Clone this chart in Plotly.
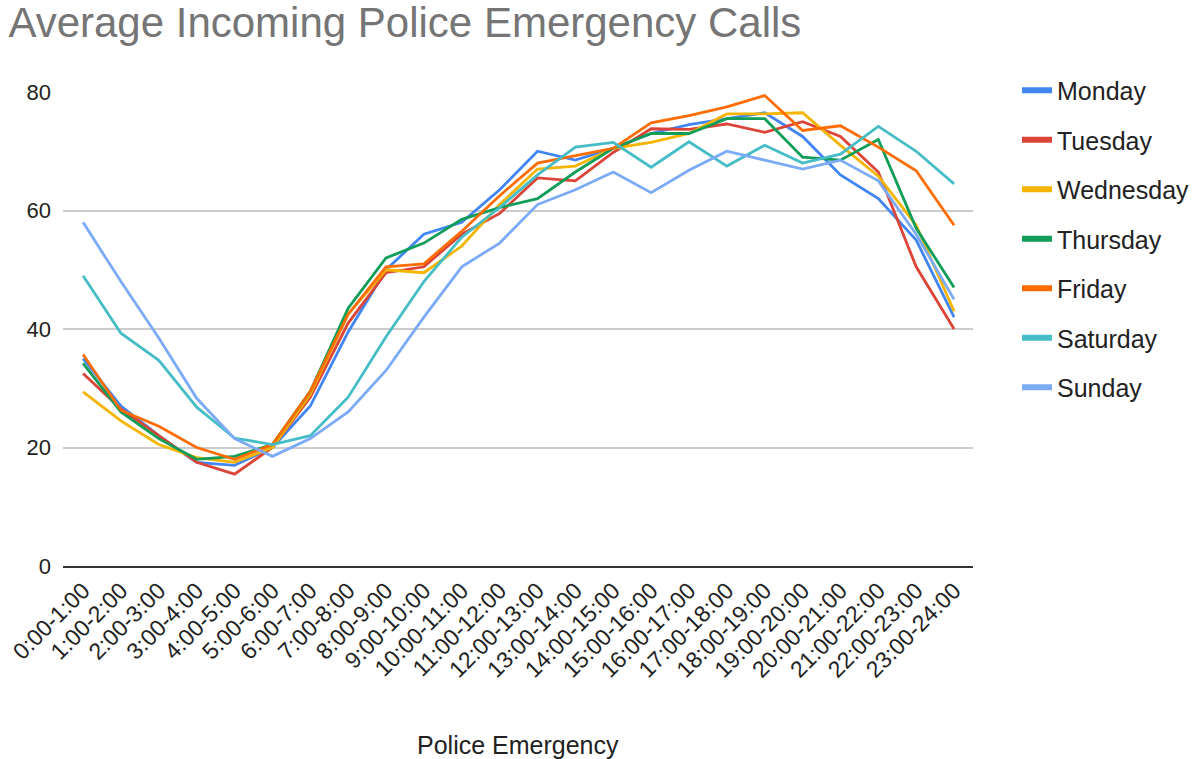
import plotly.graph_objects as go

hours = ["0:00-1:00", "1:00-2:00", "2:00-3:00", "3:00-4:00", "4:00-5:00", "5:00-6:00",
         "6:00-7:00", "7:00-8:00", "8:00-9:00", "9:00-10:00", "10:00-11:00", "11:00-12:00",
         "12:00-13:00", "13:00-14:00", "14:00-15:00", "15:00-16:00", "16:00-17:00",
         "17:00-18:00", "18:00-19:00", "19:00-20:00", "20:00-21:00", "21:00-22:00",
         "22:00-23:00", "23:00-24:00"]

monday = [35.0, 27.0, 22.0, 17.5, 17.0, 20.0, 27.0, 39.5, 50.0, 56.0, 58.0, 63.5,
          70.0, 68.5, 70.5, 73.0, 74.5, 75.5, 76.5, 72.5, 66.0, 62.0, 55.0, 42.0]
tuesday = [32.5, 26.5, 22.0, 17.5, 15.5, 20.0, 28.5, 41.0, 49.5, 50.5, 56.0, 59.5,
           65.5, 65.0, 69.8, 73.8, 73.7, 74.6, 73.2, 75.0, 72.5, 66.5, 50.5, 40.0]
wednesday = [29.4, 24.5, 20.5, 18.3, 17.5, 20.0, 29.0, 42.5, 50.0, 49.5, 54.0, 61.0,
             67.0, 67.5, 70.5, 71.5, 73.0, 76.3, 76.3, 76.5, 71.0, 65.8, 57.5, 43.0]
thursday = [34.2, 26.0, 21.5, 18.0, 18.5, 20.5, 29.5, 43.5, 52.0, 54.5, 58.5, 60.5,
            62.0, 66.5, 70.5, 73.0, 73.0, 75.5, 75.5, 69.0, 68.5, 72.0, 57.0, 47.0]
friday = [35.7, 26.3, 23.6, 20.0, 18.0, 20.5, 29.5, 42.5, 50.5, 51.0, 56.5, 62.5,
          68.0, 69.3, 70.5, 74.8, 76.0, 77.5, 79.4, 73.5, 74.3, 70.7, 66.7, 57.5]
saturday = [49.0, 39.3, 34.7, 26.8, 21.6, 20.5, 22.0, 28.5, 38.7, 48.0, 55.5, 60.5,
            66.0, 70.7, 71.5, 67.3, 71.6, 67.5, 71.0, 68.0, 69.5, 74.2, 70.0, 64.5]
sunday = [58.0, 48.0, 38.5, 28.3, 21.5, 18.5, 21.5, 26.0, 33.0, 42.0, 50.5, 54.5,
          61.0, 63.5, 66.5, 63.0, 66.8, 70.0, 68.5, 67.0, 68.5, 65.0, 56.0, 45.0]

day_names = ["Monday", "Tuesday", "Wednesday", "Thursday", "Friday", "Saturday", "Sunday"]
day_values = [monday, tuesday, wednesday, thursday, friday, saturday, sunday]
day_colors = ["#4285F4", "#DB4437", "#F4B400", "#0F9D58", "#FF6D01", "#46BDC6", "#7BAAF7"]

FONT = "Liberation Sans, Arial, sans-serif"

fig = go.Figure()
for name, vals, col in zip(day_names, day_values, day_colors):
    fig.add_trace(go.Scatter(x=hours, y=vals, mode="lines", name=name,
                             line=dict(color=col, width=2.8), showlegend=False,
                             hoverinfo="x+y+name"))

# thick swatches for the legend
for name, col in zip(day_names, day_colors):
    fig.add_trace(go.Scatter(x=[None], y=[None], mode="lines", name=name,
                             line=dict(color=col, width=6), legendgroup=name,
                             showlegend=True))

fig.update_layout(
    width=1200, height=759,
    paper_bgcolor="white", plot_bgcolor="white",
    margin=dict(l=63, r=227, t=92, b=193, autoexpand=False),
    title=dict(text="Average Incoming Police Emergency Calls",
               font=dict(family=FONT, size=42, color="#757575"),
               x=0.007, xanchor="left", xref="container",
               y=0.99, yanchor="top", yref="container"),
    font=dict(family=FONT, color="#222222"),
    showlegend=True,
    legend=dict(xref="container", x=0.8475, xanchor="left",
                yref="container", y=0.911, yanchor="top",
                font=dict(family=FONT, size=25, color="#222222"),
                tracegroupgap=14, itemwidth=30, bgcolor="rgba(0,0,0,0)"),
    xaxis=dict(type="category", range=[-0.53, 23.5], tickangle=-45,
               automargin=False,
               showgrid=False, showline=True, linecolor="#333333", linewidth=2,
               ticks="", tickfont=dict(family=FONT, size=23, color="#222222"),
               zeroline=False),
    yaxis=dict(range=[0, 80], tickvals=[0, 20, 40, 60, 80], automargin=False,
               showgrid=True, gridcolor="#cccccc", gridwidth=1.5,
               zeroline=False, showline=False, ticks="",
               ticklabelstandoff=11,
               tickfont=dict(family=FONT, size=22, color="#222222")),
    annotations=[dict(text="Police Emergency", xref="paper", x=0.5, xanchor="center",
                      yref="paper", y=-0.378, yanchor="middle", showarrow=False,
                      font=dict(family=FONT, size=25, color="#222222"))],
)

fig.write_html("out.html")
